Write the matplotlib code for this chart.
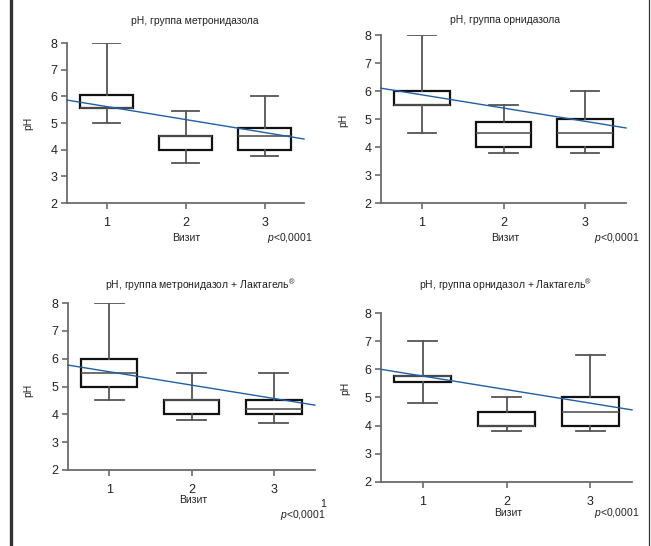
import matplotlib
matplotlib.use("Agg")
import matplotlib.pyplot as plt
from matplotlib.lines import Line2D
from matplotlib import font_manager as fm

names = {f.name for f in fm.fontManager.ttflist}
FONT = 'Liberation Sans Narrow' if 'Liberation Sans Narrow' in names else 'Liberation Sans'
plt.rcParams['font.family'] = [FONT, 'DejaVu Sans']
plt.rcParams['mathtext.fontset'] = 'custom'
plt.rcParams['mathtext.rm'] = FONT
plt.rcParams['mathtext.it'] = FONT + ':italic'

# ---- data ----
visits = [1, 2, 3]
titles = ["pH, группа метронидазола",
          "pH, группа орнидазола",
          "pH, группа метронидазол + Лактагель$^{®}$",
          "pH, группа орнидазол + Лактагель$^{®}$"]
# whisker low, q1, median, q3, whisker high  (per visit)
whislo = [[5.0, 3.5, 3.75], [4.5, 3.8, 3.8], [4.5, 3.8, 3.7], [4.8, 3.8, 3.8]]
q1 = [[5.55, 4.0, 4.0], [5.5, 4.0, 4.0], [5.0, 4.0, 4.0], [5.55, 4.0, 4.0]]
med = [[5.55, 4.5, 4.5], [5.5, 4.5, 4.5], [5.5, 4.5, 4.2], [5.75, 4.0, 4.5]]
q3 = [[6.05, 4.5, 4.8], [6.0, 4.9, 5.0], [6.0, 4.5, 4.5], [5.75, 4.5, 5.0]]
whishi = [[8.0, 5.45, 6.0], [8.0, 5.5, 6.0], [8.0, 5.5, 5.5], [7.0, 5.0, 6.5]]
# regression line values at x = 0.5 and x = 3.5
trend_x = [0.5, 3.5]
trend_y = [[5.86, 4.40], [6.10, 4.68], [5.77, 4.33], [6.00, 4.56]]
yticks = [2, 3, 4, 5, 6, 7, 8]
xlabel = "Визит"
ylabel = "pH"
ptext = "$\\it{p}$<0,0001"

W, H = 651, 546
fig = plt.figure(figsize=(W / 100, H / 100), dpi=100)

# axes boxes in pixels: left, right, top, bottom
boxes_px = [(67, 304, 43, 203), (381, 626, 35, 203),
            (68, 315, 303, 470), (381, 632, 313, 482)]
title_pos = [(195, 21), (505, 20), (200, 285), (505, 285)]
xlab_pos = [(186, 238), (505, 238), (193, 500), (508, 513)]
p_pos = [(290, 238), (617, 238), (303, 515), (617, 513)]
ylab_pos = [(28, 123), (343, 120), (28, 390), (345, 388)]

AX = '#6b6b6b'
TXT = '#222222'

def fx(x):
    return x / W

def fy(y):
    return 1 - y / H

for i in range(4):
    l, r, t, b = boxes_px[i]
    ax = fig.add_axes([fx(l), fy(b), fx(r - l), (b - t) / H])
    stats = []
    for j in range(3):
        stats.append(dict(whislo=whislo[i][j], q1=q1[i][j], med=med[i][j],
                          q3=q3[i][j], whishi=whishi[i][j], fliers=[]))
    ax.bxp(stats, positions=visits, widths=0.68, showfliers=False,
           patch_artist=True,
           boxprops=dict(facecolor='white', edgecolor='#111111', linewidth=1.6),
           medianprops=dict(color='#555555', linewidth=1.2),
           whiskerprops=dict(color='#555555', linewidth=1.3),
           capprops=dict(color='#555555', linewidth=1.3),
           capwidths=0.35, zorder=2)
    ax.plot(trend_x, trend_y[i], color='#1f5fa3', linewidth=1.0, zorder=3,
            clip_on=False)
    ax.set_xlim(0.5, 3.5)
    ax.set_ylim(2, 8)
    ax.set_yticks(yticks)
    ax.set_xticks(visits)
    ax.set_xticklabels([str(v) for v in visits])
    for s in ['top', 'right']:
        ax.spines[s].set_visible(False)
    for s in ['left', 'bottom']:
        ax.spines[s].set_color(AX)
        ax.spines[s].set_linewidth(1.3)
    ax.tick_params(axis='both', colors=AX, labelcolor=TXT, labelsize=9,
                   length=4, width=1.2, direction='out')
    ax.tick_params(axis='x', pad=6)
    ax.tick_params(axis='y', pad=3)
    ax.patch.set_visible(False)

    fig.text(fx(title_pos[i][0]), fy(title_pos[i][1]), titles[i],
             ha='center', va='center', fontsize=7.5, color=TXT)
    fig.text(fx(xlab_pos[i][0]), fy(xlab_pos[i][1]), xlabel,
             ha='center', va='center', fontsize=7.5, color=TXT)
    fig.text(fx(p_pos[i][0]), fy(p_pos[i][1]), ptext,
             ha='center', va='center', fontsize=7.5, color=TXT)
    fig.text(fx(ylab_pos[i][0]), fy(ylab_pos[i][1]), ylabel,
             ha='center', va='center', fontsize=7.5, color=TXT, rotation=90)

# stray label and frame lines
fig.text(fx(323), fy(504), "1", ha='center', va='center', fontsize=7.5,
         color=TXT)
fig.add_artist(Line2D([fx(10.5), fx(10.5)], [0, 1], color='#333333',
                      linewidth=2.4))
fig.add_artist(Line2D([fx(649), fx(649)], [0, 1], color='#333333',
                      linewidth=0.9))

fig.savefig("out.png", dpi=100)
